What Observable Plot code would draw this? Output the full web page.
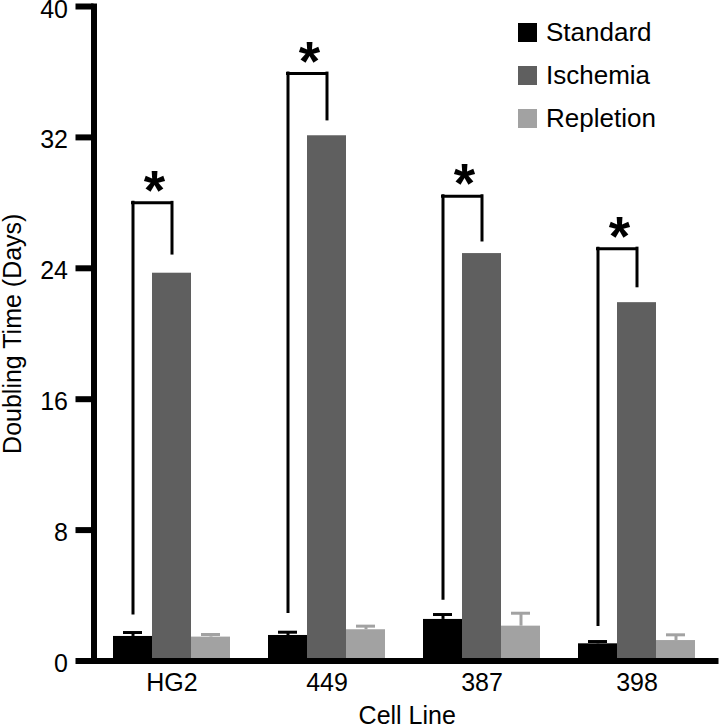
<!DOCTYPE html>
<html>
<head>
<meta charset="utf-8">
<script src="https://cdn.jsdelivr.net/npm/d3@7"></script>
<script src="https://cdn.jsdelivr.net/npm/@observablehq/plot@0.6"></script>
<style>
  html, body { margin: 0; padding: 0; background: #fff; }
  #wrap { position: relative; width: 720px; height: 728px; font-family: "Liberation Sans", Arial, Helvetica, sans-serif; }
  #legend { position: absolute; left: 518px; top: 11px; }
  .row { display: flex; align-items: center; height: 43px; }
  .sw { width: 19px; height: 19px; margin-right: 9px; }
  .lab { font-size: 26px; color: #000; line-height: 19px; }
</style>
</head>
<body>
<div id="wrap"><div id="legend"></div></div>
<script>
const cellLines = ["HG2", "449", "387", "398"];
const seriesNames = ["Standard", "Ischemia", "Repletion"];
const seriesColors = ["#000000", "#5f5f5f", "#a2a2a2"];
const standard = [1.5, 1.56, 2.54, 1.05];
const standardErr = [0.24, 0.2, 0.3, 0.14];
const ischemia = [23.7, 32.1, 24.9, 21.9];
const repletion = [1.46, 1.91, 2.13, 1.25];
const repletionErr = [0.16, 0.22, 0.79, 0.35];
const bracketTop = [28.0, 35.9, 28.4, 25.2];
const bracketLeftEnd = [2.9, 3.0, 3.8, 2.2];
const bracketRightEnd = [24.9, 33.1, 25.7, 22.9];
const yTicks = [0, 8, 16, 24, 32, 40];
const xTitle = "Cell Line";
const yTitle = "Doubling Time (Days)";
const sigMark = "*";

const stdRows = cellLines.map((c, i) => ({cell: c, value: standard[i], hi: standard[i] + standardErr[i]}));
const ischRows = cellLines.map((c, i) => ({cell: c, value: ischemia[i]}));
const repRows = cellLines.map((c, i) => ({cell: c, value: repletion[i], hi: repletion[i] + repletionErr[i]}));
const brRows = cellLines.map((c, i) => ({cell: c, top: bracketTop[i], left: bracketLeftEnd[i], right: bracketRightEnd[i]}));

const BW = 39; // bar width offset in px
const font = "Liberation Sans, Arial, Helvetica, sans-serif";

const chart = Plot.plot({
  width: 720,
  height: 728,
  marginTop: 6,
  marginBottom: 67.5,
  marginLeft: 93.5,
  marginRight: 5,
  style: {fontFamily: font, background: "transparent", color: "#000"},
  x: {domain: cellLines, paddingInner: 0.749, paddingOuter: 0.373, axis: null},
  y: {domain: [0, 40], axis: null},
  marks: [
    Plot.barY(stdRows, {x: "cell", y: "value", fill: seriesColors[0], dx: -BW}),
    Plot.barY(ischRows, {x: "cell", y: "value", fill: seriesColors[1]}),
    Plot.barY(repRows, {x: "cell", y: "value", fill: seriesColors[2], dx: BW}),
    // error bars
    Plot.ruleX(stdRows, {x: "cell", y1: "value", y2: "hi", dx: -BW, stroke: seriesColors[0], strokeWidth: 3}),
    Plot.tickY(stdRows, {x: "cell", y: "hi", dx: -BW, insetLeft: 10, insetRight: 10, stroke: seriesColors[0], strokeWidth: 3}),
    Plot.ruleX(repRows, {x: "cell", y1: "value", y2: "hi", dx: BW, stroke: seriesColors[2], strokeWidth: 3}),
    Plot.tickY(repRows, {x: "cell", y: "hi", dx: BW, insetLeft: 10, insetRight: 10, stroke: seriesColors[2], strokeWidth: 3}),
    // significance brackets
    Plot.ruleX(brRows, {x: "cell", y1: "left", y2: "top", dx: -BW, stroke: "#000", strokeWidth: 3, strokeLinecap: "square"}),
    Plot.ruleX(brRows, {x: "cell", y1: "right", y2: "top", stroke: "#000", strokeWidth: 3, strokeLinecap: "square"}),
    Plot.tickY(brRows, {x: "cell", y: "top", dx: -BW / 2, stroke: "#000", strokeWidth: 3, strokeLinecap: "square"}),
    Plot.text(brRows, {x: "cell", y: "top", text: () => sigMark, dx: -BW / 2 + 2, dy: -33, lineAnchor: "top", fontSize: 55, fontWeight: "bold", fill: "#000"}),
    // axes: tick marks, then labels slightly lowered
    Plot.axisY({ticks: yTicks, tickSize: 18, strokeWidth: 6, tickFormat: () => "", label: null}),
    Plot.axisY({ticks: yTicks, tickSize: 0, tickPadding: 26, fontSize: 25, dy: 3, label: null, tickFormat: d => String(d)}),
    Plot.axisX({tickSize: 0, tickPadding: 12, fontSize: 25, label: null}),
    Plot.frame({anchor: "left", strokeWidth: 6, strokeLinecap: "square"}),
    Plot.frame({anchor: "bottom", strokeWidth: 6}),
    Plot.text([yTitle], {frameAnchor: "left", text: d => d, rotate: -90, dx: -91, textAnchor: "middle", lineAnchor: "top", fontSize: 25, fill: "#000"}),
    Plot.text([xTitle], {frameAnchor: "bottom", text: d => d, dx: 2.5, dy: 45.5, textAnchor: "middle", lineAnchor: "top", fontSize: 25, fill: "#000"})
  ]
});

const wrap = document.getElementById("wrap");
wrap.insertBefore(chart, wrap.firstChild);

const legend = document.getElementById("legend");
seriesNames.forEach((name, i) => {
  const row = document.createElement("div");
  row.className = "row";
  const sw = document.createElement("div");
  sw.className = "sw";
  sw.style.background = seriesColors[i];
  const lab = document.createElement("div");
  lab.className = "lab";
  lab.textContent = name;
  row.appendChild(sw);
  row.appendChild(lab);
  legend.appendChild(row);
});
</script>
</body>
</html>
